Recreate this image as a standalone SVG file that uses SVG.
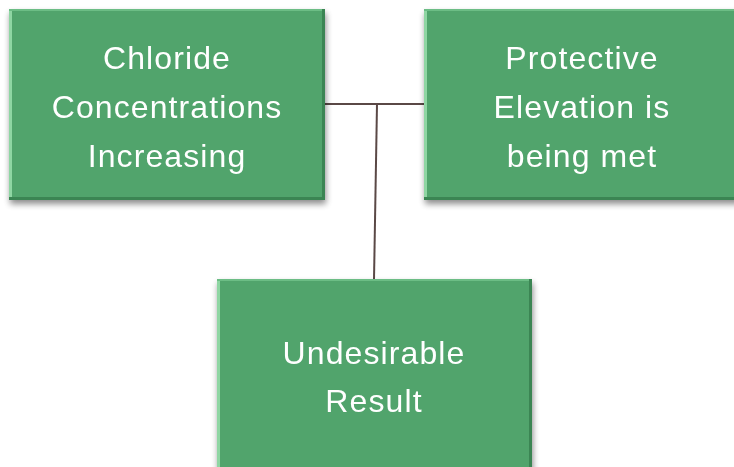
<svg xmlns="http://www.w3.org/2000/svg" width="734" height="467" viewBox="0 0 734 467">
<defs>
<filter id="sh" x="-10%" y="-10%" width="125%" height="125%">
<feGaussianBlur in="SourceAlpha" stdDeviation="3"/>
<feOffset dx="1" dy="4" result="b"/>
<feComponentTransfer><feFuncA type="linear" slope="0.45"/></feComponentTransfer>
<feMerge><feMergeNode/><feMergeNode in="SourceGraphic"/></feMerge>
</filter>
</defs>
<style>
.box{fill:#51a46c}
.hl{fill:#8fd6a3}
.hl2{fill:#6cbd85}
.dk{fill:#3a8553}
.t{font-family:"Liberation Sans","DejaVu Sans",sans-serif;font-size:32px;letter-spacing:1.1px;fill:#ffffff;text-anchor:middle}
.c{stroke:#5a4846;stroke-width:2;fill:none}
</style>
<g id="connectors">
<line class="c" x1="324" y1="104" x2="425" y2="104"/>
<line class="c" x1="377" y1="104" x2="374" y2="280"/>
</g>
<g id="n1" filter="url(#sh)">
<rect class="box" x="9" y="9" width="316" height="191"/>
<rect class="hl" x="9" y="9" width="3" height="191"/>
<rect class="hl2" x="9" y="9" width="316" height="2"/>
<rect class="dk" x="322" y="9" width="3" height="191"/>
<rect class="dk" x="9" y="197" width="316" height="3"/>
<text class="t" x="167" y="69">Chloride</text>
<text class="t" x="167" y="118">Concentrations</text>
<text class="t" x="167" y="167">Increasing</text>
</g>
<g id="n2" filter="url(#sh)">
<rect class="box" x="424" y="9" width="316" height="191"/>
<rect class="hl" x="424" y="9" width="3" height="191"/>
<rect class="hl2" x="424" y="9" width="316" height="2"/>
<rect class="dk" x="424" y="197" width="316" height="3"/>
<text class="t" x="582" y="69">Protective</text>
<text class="t" x="582" y="118">Elevation is</text>
<text class="t" x="582" y="167">being met</text>
</g>
<g id="n3" filter="url(#sh)">
<rect class="box" x="217" y="279" width="315" height="195"/>
<rect class="hl" x="217" y="279" width="3" height="195"/>
<rect class="hl2" x="217" y="279" width="315" height="2"/>
<rect class="dk" x="529" y="279" width="3" height="195"/>
<text class="t" x="374" y="364">Undesirable</text>
<text class="t" x="374" y="412">Result</text>
</g>
</svg>
